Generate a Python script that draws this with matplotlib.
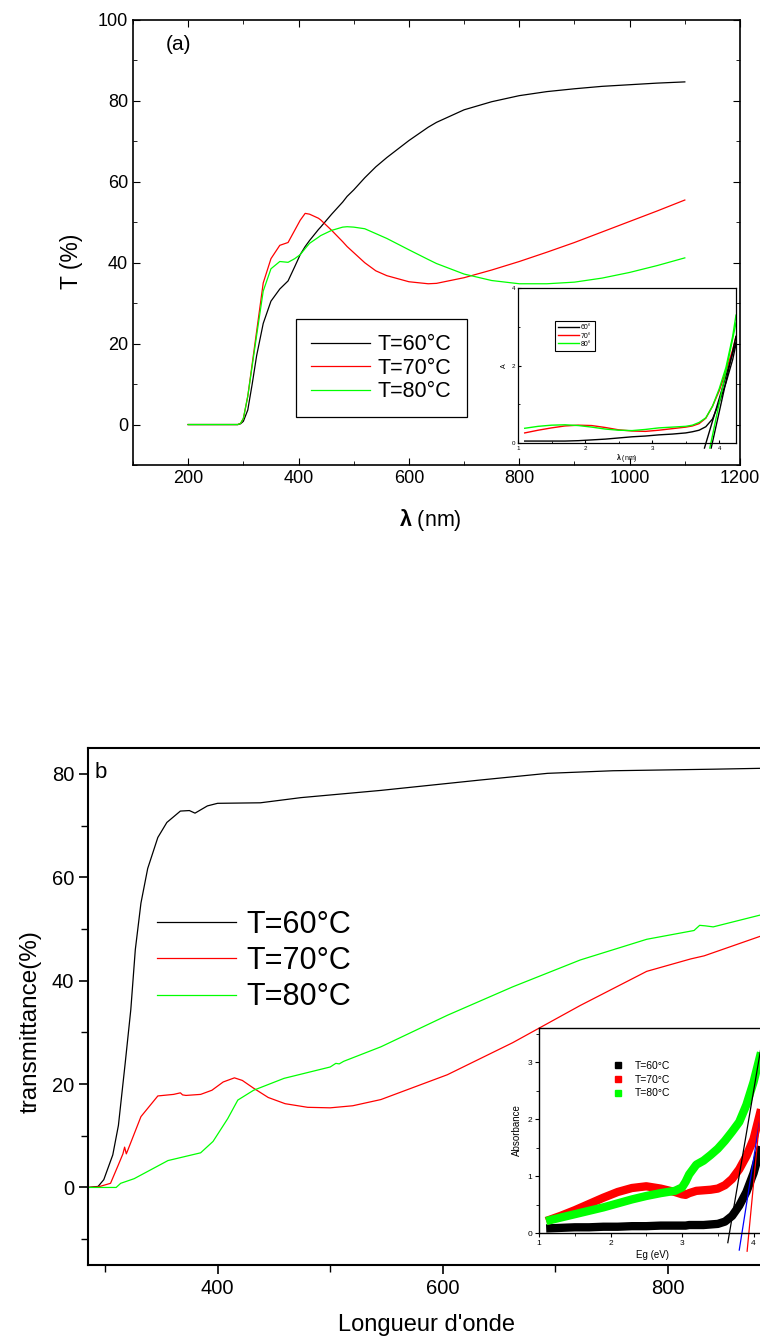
import matplotlib.pyplot as plt
from matplotlib.ticker import MultipleLocator
from matplotlib.lines import Line2D

plt.rcParams['font.family'] = ['Liberation Sans', 'DejaVu Sans']
plt.rcParams['mathtext.fontset'] = 'custom'
plt.rcParams['mathtext.rm'] = 'Liberation Sans'
plt.rcParams['mathtext.bf'] = 'Liberation Sans:bold'

# ---- panel (a): transmittance ----
wl_a = [200, 290, 295, 300, 308, 316, 324, 336, 350, 366, 381, 393, 403, 412,
        420, 436, 440, 460, 480, 488, 500, 520, 540, 560, 600, 635, 650, 700,
        750, 800, 850, 900, 950, 1000, 1050, 1100]
t60_a = [0, 0, 0.2, 0.8, 3.6, 10, 17, 25, 30.5, 33.5, 35.5, 39, 42, 44,
         45.5, 48.2, 48.8, 52, 55, 56.4, 58, 61, 63.7, 66, 70.2, 73.5, 74.7, 77.8,
         79.8, 81.3, 82.3, 83, 83.6, 84, 84.4, 84.7]
t70_a = [0, 0, 0.3, 1.5, 7, 15, 23, 35, 41, 44.3, 45, 48, 50.5, 52.2,
         52, 51, 50.6, 48, 45.2, 44, 42.5, 40, 38, 36.8, 35.3, 34.8, 34.9, 36.3,
         38.2, 40.3, 42.6, 45, 47.6, 50.2, 52.8, 55.5]
t80_a = [0, 0, 0.3, 1.5, 7, 14.5, 22, 33, 38.5, 40.3, 40.1, 41, 42, 43.5,
         44.8, 46.3, 46.7, 48, 48.8, 48.9, 48.8, 48.4, 47.2, 46, 43.2, 40.8, 39.8, 37.2,
         35.6, 34.8, 34.8, 35.2, 36.2, 37.6, 39.3, 41.2]

# inset (a): absorbance
ev_a = [1.1, 1.3, 1.5, 1.7, 1.9, 2.1, 2.3, 2.5, 2.7, 2.9, 3.1, 3.3, 3.5, 3.6,
        3.7, 3.8, 3.9, 4.0, 4.1, 4.2, 4.25]
a60_a = [0.05, 0.05, 0.05, 0.05, 0.06, 0.08, 0.1, 0.13, 0.16, 0.18, 0.21, 0.23, 0.26, 0.29,
         0.33, 0.42, 0.62, 1.05, 1.55, 2.15, 2.55]
a70_a = [0.26, 0.33, 0.39, 0.44, 0.46, 0.45, 0.4, 0.34, 0.31, 0.3, 0.33, 0.37, 0.41, 0.44,
         0.5, 0.64, 0.95, 1.35, 1.85, 2.4, 2.75]
a80_a = [0.38, 0.43, 0.46, 0.47, 0.45, 0.41, 0.36, 0.33, 0.32, 0.35, 0.39, 0.41, 0.43, 0.46,
         0.53, 0.65, 0.95, 1.4, 1.95, 2.75, 3.3]
fit_a_x = [[3.78, 4.25], [3.88, 4.25], [3.86, 4.25]]
fit_a_y = [[-0.13, 2.6], [-0.13, 2.75], [-0.13, 3.1]]
fit_a_c = ['black', 'black', '#00ff00']

# ---- panel (b): transmittance ----
wl60_b = [285, 294, 299, 307, 312, 318, 323, 327, 332, 338, 347, 355, 367, 375,
          380, 391, 400, 438, 474, 545, 633, 693, 751, 840, 890]
t60_b = [0, 0.2, 1.5, 6.3, 12, 24, 34.4, 46, 55, 61.7, 67.7, 70.6, 72.8, 72.9,
         72.4, 73.8, 74.3, 74.4, 75.4, 76.8, 78.8, 80.1, 80.6, 80.9, 81.1]
wl70_b = [285, 294, 305, 312, 316, 317.5, 319, 320.5, 332, 347, 361, 367, 369, 372,
          385, 395, 405, 415, 422, 432, 445, 460, 480, 500, 520, 545, 604, 662,
          722, 781, 820, 832, 882, 890]
t70_b = [0, 0.1, 0.8, 4.4, 6.5, 7.8, 6.5, 7.3, 13.7, 17.7, 18, 18.3, 17.9, 17.8,
         18, 18.8, 20.4, 21.2, 20.7, 19.2, 17.4, 16.2, 15.5, 15.4, 15.8, 17, 21.8, 28,
         35.2, 41.8, 44.2, 44.8, 48.6, 49.2]
wl80_b = [285, 310, 314, 326, 356, 385, 396, 409, 418, 432, 459, 500, 505, 508,
          512, 545, 604, 662, 722, 781, 823, 828, 833, 840, 882, 890]
t80_b = [0, 0, 0.8, 1.7, 5.2, 6.7, 8.9, 13.3, 16.9, 18.8, 21.1, 23.3, 24, 23.9,
         24.4, 27.2, 33.3, 38.8, 44, 48, 49.7, 50.7, 50.6, 50.4, 52.7, 53]

# inset (b): absorbance vs Eg
ev_b = [1.1, 1.3, 1.5, 1.7, 1.9, 2.1, 2.3, 2.5, 2.7, 2.9, 3.0, 3.05, 3.1, 3.2,
        3.3, 3.4, 3.5, 3.6, 3.7, 3.8, 3.9, 4.0, 4.1, 4.16]
a60_b = [0.08, 0.09, 0.1, 0.1, 0.11, 0.11, 0.12, 0.12, 0.13, 0.13, 0.13, 0.13, 0.14, 0.14,
         0.14, 0.15, 0.16, 0.2, 0.3, 0.48, 0.72, 1.05, 1.5, 1.8]
a70_b = [0.21, 0.3, 0.4, 0.51, 0.62, 0.72, 0.79, 0.82, 0.78, 0.72, 0.68, 0.67, 0.7, 0.74,
         0.75, 0.76, 0.78, 0.84, 0.95, 1.12, 1.35, 1.65, 2.15, 2.5]
a80_b = [0.21, 0.27, 0.33, 0.39, 0.45, 0.52, 0.59, 0.65, 0.7, 0.74, 0.8, 0.9, 1.03, 1.2,
         1.27, 1.37, 1.48, 1.62, 1.78, 1.95, 2.25, 2.65, 3.15, 3.4]
fit_b_x = [[3.64, 4.1], [3.8, 4.12], [3.91, 4.12]]
fit_b_y = [[-0.17, 3.23], [-0.3, 2.25], [-0.32, 2.45]]
fit_b_c = ['black', '#0000ff', '#ff0000']

labels = ['T=60°C', 'T=70°C', 'T=80°C']
colors = ['black', '#ff0000', '#00ff00']

W, H = 760, 1343


def box(l, t, r, b):
    return [l / W, 1 - b / H, (r - l) / W, (b - t) / H]


fig = plt.figure(figsize=(W / 100, H / 100), dpi=100)

# ---------- panel (a) ----------
ax1 = fig.add_axes(box(133, 20, 740, 465))
for y, c, lab in zip([t60_a, t70_a, t80_a], colors, labels):
    ax1.plot(wl_a, y, color=c, lw=0.9, label=lab)
ax1.set_xlim(100, 1200)
ax1.set_ylim(-10, 100)
ax1.xaxis.set_major_locator(MultipleLocator(200))
ax1.xaxis.set_minor_locator(MultipleLocator(100))
ax1.yaxis.set_major_locator(MultipleLocator(20))
ax1.yaxis.set_minor_locator(MultipleLocator(10))
ax1.tick_params(which='both', direction='in', top=True, right=True, labelsize=13)
ax1.tick_params(which='major', length=5)
ax1.tick_params(which='minor', length=3)
for s in ax1.spines.values():
    s.set_linewidth(1.2)
ax1.set_ylabel('T (%)', fontsize=16.5)
ax1.yaxis.set_label_coords(-0.082, 0.458)
ax1.set_xlabel(r'$\mathbf{λ}$ (nm)', fontsize=15.5)
ax1.xaxis.set_label_coords(0.49, -0.095)
ax1.text(160, 94, '(a)', fontsize=15, va='center')
ax1.legend(loc='upper left', bbox_to_anchor=(296 / W, 1 - 319 / H),
           bbox_transform=fig.transFigure, borderaxespad=0, fontsize=15.5,
           frameon=True, fancybox=False, edgecolor='black', framealpha=1,
           handlelength=2.75, handletextpad=0.35, labelspacing=0.12, borderpad=0.7)
ax1.get_legend().get_frame().set_linewidth(0.9)

ins1 = fig.add_axes(box(518, 288, 736, 443))
for y, c, lab in zip([a60_a, a70_a, a80_a], colors, ['60°', '70°', '80°']):
    ins1.plot(ev_a, y, color=c, lw=1.0, label=lab)
for fx, fy, c in zip(fit_a_x, fit_a_y, fit_a_c):
    ins1.plot(fx, fy, color=c, lw=1.0, clip_on=False)
ins1.set_xlim(1, 4.25)
ins1.set_ylim(0, 4)
ins1.xaxis.set_major_locator(MultipleLocator(1))
ins1.xaxis.set_minor_locator(MultipleLocator(0.5))
ins1.yaxis.set_major_locator(MultipleLocator(2))
ins1.yaxis.set_minor_locator(MultipleLocator(1))
ins1.tick_params(which='both', direction='in', labelsize=4.5, pad=2)
ins1.tick_params(which='major', length=2.5)
ins1.tick_params(which='minor', length=1.5)
for s in ins1.spines.values():
    s.set_linewidth(0.9)
ins1.set_ylabel('A', fontsize=5, labelpad=3)
ins1.set_xlabel(r'$\mathbf{λ}$ (nm)', fontsize=5, labelpad=1)
ins1.legend(loc='upper left', bbox_to_anchor=(555 / W, 1 - 321 / H),
            bbox_transform=fig.transFigure, borderaxespad=0, fontsize=5,
            frameon=True, fancybox=False, edgecolor='black', framealpha=1,
            handlelength=2.9, handletextpad=0.3, labelspacing=0.15, borderpad=0.5)
ins1.get_legend().get_frame().set_linewidth(0.8)

# ---------- panel (b) ----------
ax2 = fig.add_axes(box(88, 748, 765, 1265))
for x, y, c, lab in zip([wl60_b, wl70_b, wl80_b], [t60_b, t70_b, t80_b], colors, labels):
    ax2.plot(x, y, color=c, lw=0.9, label=lab)
ax2.set_xlim(285, 886)
ax2.set_ylim(-15, 85)
ax2.xaxis.set_major_locator(MultipleLocator(200))
ax2.xaxis.set_minor_locator(MultipleLocator(100))
ax2.yaxis.set_major_locator(MultipleLocator(20))
ax2.yaxis.set_minor_locator(MultipleLocator(10))
ax2.tick_params(which='both', direction='out', labelsize=14.5)
ax2.tick_params(which='major', length=6.5, width=1.2)
ax2.tick_params(which='minor', length=5, width=1.0)
for s in ax2.spines.values():
    s.set_linewidth(1.5)
ax2.set_ylabel('transmittance(%)', fontsize=17.5)
ax2.yaxis.set_label_coords(-0.068, 0.47)
ax2.set_xlabel("Longueur d'onde", fontsize=17)
ax2.xaxis.set_label_coords(0.5, -0.095)
ax2.text(95 / W, 1 - 772 / H, 'b', transform=fig.transFigure, fontsize=16, va='center')
ax2.legend(loc='upper left', bbox_to_anchor=(157 / W, 1 - 910 / H),
           bbox_transform=fig.transFigure, borderaxespad=0, fontsize=22,
           frameon=False, handlelength=2.6, handletextpad=0.33,
           labelspacing=0.2, borderpad=0)

ins2 = fig.add_axes(box(539, 1028, 765, 1233))
for y, c in zip([a60_b, a70_b, a80_b], colors):
    ins2.plot(ev_b, y, color=c, lw=6, solid_capstyle='butt', solid_joinstyle='round')
for fx, fy, c in zip(fit_b_x, fit_b_y, fit_b_c):
    ins2.plot(fx, fy, color=c, lw=0.9, clip_on=False)
ins2.set_xlim(1, 4.16)
ins2.set_ylim(0, 3.6)
ins2.xaxis.set_major_locator(MultipleLocator(1))
ins2.xaxis.set_minor_locator(MultipleLocator(0.5))
ins2.yaxis.set_major_locator(MultipleLocator(1))
ins2.yaxis.set_minor_locator(MultipleLocator(0.5))
ins2.tick_params(which='both', direction='out', labelsize=6, pad=2)
ins2.tick_params(which='major', length=3)
ins2.tick_params(which='minor', length=2)
for s in ins2.spines.values():
    s.set_linewidth(1.0)
ins2.set_ylabel('Absorbance', fontsize=7, labelpad=4)
ins2.set_xlabel('Eg (eV)', fontsize=7, labelpad=2)
handles = [Line2D([], [], color=c, marker='s', linestyle='none', markersize=5) for c in colors]
ins2.legend(handles, labels, loc='upper left', bbox_to_anchor=(613 / W, 1 - 1061 / H),
            bbox_transform=fig.transFigure, borderaxespad=0, fontsize=7.5,
            frameon=False, handlelength=1.0, handletextpad=1.1,
            labelspacing=0.35, borderpad=0)

fig.savefig('out.png', dpi=100)
